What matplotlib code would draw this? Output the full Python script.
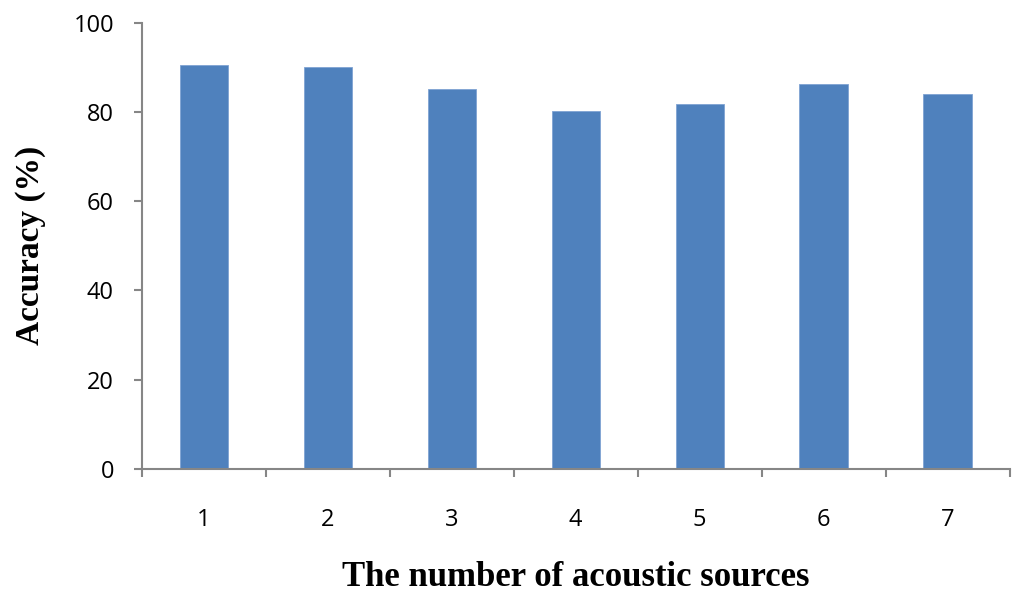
import matplotlib
matplotlib.use('Agg')
import matplotlib.pyplot as plt
import numpy as np

# number of acoustic sources vs accuracy
sources = ['1', '2', '3', '4', '5', '6', '7']
accuracy = [90.6, 90.1, 85.2, 80.2, 81.7, 86.2, 84.1]

fig = plt.figure(figsize=(10.24, 6.04), dpi=100)
ax = fig.add_axes([0.1384, 0.2235, 0.8476, 0.739])

x = np.arange(len(sources))
ax.bar(x, accuracy, width=0.39, color='#4F81BD', edgecolor='#7FA3D3', linewidth=0.6, zorder=2)

ax.set_xlim(-0.5, len(sources) - 0.5)
ax.set_ylim(0, 100)
ax.set_yticks(np.arange(0, 101, 20))

# category labels centred, ticks at category boundaries
ax.set_xticks(x)
ax.set_xticklabels(sources)
ax.set_xticks(np.arange(-0.5, len(sources), 1.0), minor=True)
ax.tick_params(axis='x', which='major', length=0, pad=28, labelsize=17)
ax.tick_params(axis='x', which='minor', length=6, width=1.5, color='#868686', direction='out')
ax.tick_params(axis='y', length=6, width=1.5, color='#868686', direction='out', labelsize=17, pad=14)

for t in ax.get_xticklabels() + ax.get_yticklabels():
    t.set_fontfamily('Open Sans')

for s in ['top', 'right']:
    ax.spines[s].set_visible(False)
for s in ['left', 'bottom']:
    ax.spines[s].set_color('#868686')
    ax.spines[s].set_linewidth(1.5)

ax.set_xlabel('The number of acoustic sources', fontfamily='Liberation Serif',
              fontweight='bold', fontsize=25, labelpad=21)
ax.set_ylabel('Accuracy (%)', fontfamily='Liberation Serif',
              fontweight='bold', fontsize=24, labelpad=20)

fig.savefig('out.png', dpi=100)
